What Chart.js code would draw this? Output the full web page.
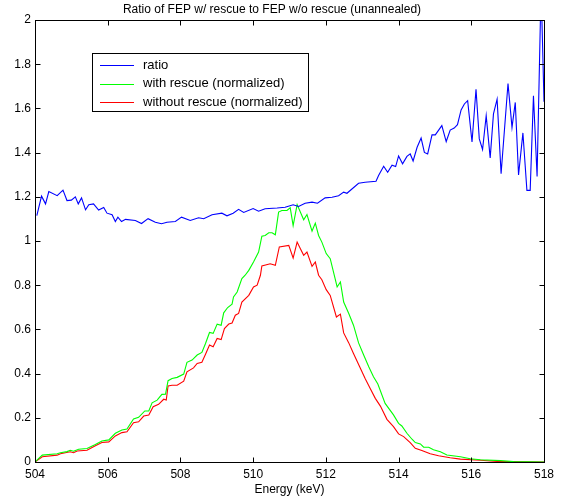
<!DOCTYPE html>
<html>
<head>
<meta charset="utf-8">
<script src="https://cdn.jsdelivr.net/npm/chart.js@4.4.0/dist/chart.umd.min.js"></script>
<style>
  html, body { margin: 0; padding: 0; background: #fff; }
</style>
</head>
<body>
<canvas id="chart" width="561" height="500"></canvas>
<script>
const chartTitle = "Ratio of FEP w/ rescue to FEP w/o rescue (unannealed)";
const xLabel = "Energy (keV)";
const seriesNames = ["ratio", "with rescue (normalized)", "without rescue (normalized)"];
const seriesColors = ["#0000ff", "#00ff00", "#ff0000"];
const xTicks = [504, 506, 508, 510, 512, 514, 516, 518];
const yTicks = [0, 0.2, 0.4, 0.6, 0.8, 1, 1.2, 1.4, 1.6, 1.8, 2];

// ratio curve (keV, ratio)
const ratioE = [
  504.05, 504.18, 504.29, 504.38, 504.61, 504.77, 504.88, 505.00, 505.11, 505.19,
  505.28, 505.39, 505.48, 505.61, 505.75, 505.89, 505.98, 506.12, 506.21, 506.28,
  506.38, 506.49, 506.76, 506.93, 507.11, 507.31, 507.48, 507.63, 507.86, 508.03,
  508.27, 508.50, 508.64, 508.87, 509.14, 509.28, 509.45, 509.60, 509.74, 510.00,
  510.15, 510.33, 510.66, 510.88, 511.10, 511.25, 511.43, 511.62, 511.77, 511.98,
  512.17, 512.35, 512.49, 512.58, 512.90, 513.08, 513.38, 513.45, 513.59, 513.70,
  513.82, 513.92, 514.00, 514.11, 514.23, 514.32, 514.40, 514.51, 514.62, 514.71,
  514.80, 514.92, 515.01, 515.19, 515.31, 515.42, 515.53, 515.62, 515.72, 515.81,
  515.90, 516.02, 516.13, 516.22, 516.31, 516.41, 516.52, 516.61, 516.71, 516.82,
  517.01, 517.12, 517.21, 517.30, 517.42, 517.53, 517.62, 517.71, 517.81, 517.92,
  518.00
];
const ratioV = [
  1.115, 1.203, 1.168, 1.224, 1.205, 1.230, 1.183, 1.185, 1.200, 1.168,
  1.195, 1.141, 1.164, 1.168, 1.140, 1.152, 1.126, 1.119, 1.088, 1.108,
  1.088, 1.098, 1.093, 1.079, 1.101, 1.085, 1.078, 1.085, 1.088, 1.108,
  1.093, 1.105, 1.101, 1.119, 1.126, 1.114, 1.126, 1.143, 1.129, 1.147,
  1.135, 1.146, 1.149, 1.153, 1.164, 1.156, 1.171, 1.176, 1.171, 1.195,
  1.198, 1.205, 1.221, 1.216, 1.261, 1.266, 1.270, 1.296, 1.338, 1.311,
  1.343, 1.337, 1.385, 1.349, 1.383, 1.394, 1.362, 1.424, 1.466, 1.401,
  1.394, 1.480, 1.480, 1.522, 1.450, 1.502, 1.511, 1.526, 1.593, 1.620,
  1.635, 1.448, 1.687, 1.462, 1.414, 1.567, 1.376, 1.575, 1.642, 1.304,
  1.713, 1.514, 1.627, 1.299, 1.489, 1.229, 1.229, 1.657, 1.292, 2.150,
  1.630
];

// with rescue (normalized)
const withE = [
  504.00, 504.20, 504.61, 504.70, 504.88, 504.97, 505.06, 505.20, 505.43, 505.66,
  505.84, 506.03, 506.21, 506.39, 506.53, 506.71, 506.85, 507.02, 507.13, 507.22,
  507.36, 507.49, 507.59, 507.66, 507.77, 507.91, 508.09, 508.18, 508.32, 508.46,
  508.59, 508.69, 508.80, 508.90, 509.01, 509.12, 509.19, 509.30, 509.42, 509.46,
  509.56, 509.69, 509.78, 509.88, 510.01, 510.15, 510.24, 510.33, 510.43, 510.52,
  510.61, 510.70, 510.79, 510.93, 511.02, 511.10, 511.21, 511.39, 511.48, 511.62,
  511.71, 511.80, 511.89, 512.01, 512.12, 512.31, 512.40, 512.49, 512.63, 512.76,
  512.90, 513.04, 513.18, 513.31, 513.43, 513.63, 513.86, 514.00, 514.09, 514.23,
  514.37, 514.46, 514.60, 514.69, 514.83, 514.96, 515.15, 515.33, 515.70, 515.97,
  516.25, 516.80, 517.16, 518.00
];
const withV = [
  0.000, 0.031, 0.037, 0.042, 0.047, 0.053, 0.049, 0.058, 0.061, 0.079,
  0.095, 0.100, 0.130, 0.145, 0.149, 0.195, 0.202, 0.231, 0.231, 0.268,
  0.280, 0.306, 0.307, 0.368, 0.378, 0.383, 0.398, 0.451, 0.461, 0.484,
  0.496, 0.536, 0.586, 0.582, 0.624, 0.619, 0.675, 0.699, 0.714, 0.747,
  0.769, 0.830, 0.845, 0.867, 0.905, 0.950, 1.022, 1.025, 1.037, 1.037,
  1.028, 1.131, 1.138, 1.138, 1.150, 1.070, 1.165, 1.096, 1.120, 1.045,
  1.081, 1.025, 0.995, 0.943, 0.920, 0.792, 0.815, 0.724, 0.672, 0.619,
  0.539, 0.484, 0.431, 0.386, 0.353, 0.265, 0.213, 0.175, 0.163, 0.130,
  0.103, 0.088, 0.082, 0.067, 0.067, 0.055, 0.046, 0.032, 0.024, 0.015,
  0.010, 0.006, 0.002, 0.000
];

// without rescue (normalized)
const withoutE = [
  504.00, 504.20, 504.61, 504.70, 504.97, 505.06, 505.16, 505.43, 505.66, 505.84,
  506.03, 506.21, 506.39, 506.53, 506.71, 506.85, 506.99, 507.13, 507.25, 507.40,
  507.54, 507.61, 507.66, 507.77, 507.91, 508.09, 508.18, 508.36, 508.46, 508.59,
  508.69, 508.80, 508.90, 509.01, 509.12, 509.21, 509.33, 509.42, 509.51, 509.60,
  509.69, 509.88, 510.01, 510.11, 510.20, 510.24, 510.47, 510.61, 510.72, 510.98,
  511.10, 511.21, 511.30, 511.39, 511.48, 511.62, 511.71, 511.80, 511.89, 512.01,
  512.12, 512.29, 512.40, 512.49, 512.63, 512.76, 512.93, 513.08, 513.22, 513.36,
  513.50, 513.68, 513.86, 514.00, 514.14, 514.32, 514.46, 514.64, 514.87, 515.10,
  515.42, 515.70, 516.25, 516.71, 518.00
];
const withoutV = [
  0.000, 0.024, 0.031, 0.037, 0.046, 0.042, 0.050, 0.053, 0.074, 0.088,
  0.091, 0.118, 0.133, 0.137, 0.178, 0.182, 0.208, 0.213, 0.250, 0.261,
  0.284, 0.280, 0.344, 0.347, 0.347, 0.366, 0.408, 0.426, 0.446, 0.451,
  0.488, 0.529, 0.521, 0.559, 0.554, 0.604, 0.624, 0.629, 0.664, 0.672,
  0.724, 0.754, 0.792, 0.800, 0.845, 0.887, 0.897, 0.890, 0.973, 0.980,
  0.923, 0.995, 0.965, 0.935, 0.950, 0.885, 0.905, 0.845, 0.825, 0.780,
  0.754, 0.656, 0.669, 0.584, 0.539, 0.491, 0.431, 0.378, 0.333, 0.288,
  0.253, 0.193, 0.160, 0.127, 0.115, 0.088, 0.062, 0.052, 0.037, 0.028,
  0.019, 0.013, 0.008, 0.003, 0.000
];

const toPoints = (xs, ys) => xs.map((x, i) => ({ x: x, y: ys[i] }));

// matlab style box: frame, inward ticks, title, legend box
const matlabBox = {
  id: "matlabBox",
  afterDraw(chart) {
    const { ctx, chartArea: a, scales } = chart;
    const L = Math.round(a.left) + 0.5, R = Math.round(a.right) + 0.5;
    const T = Math.round(a.top) + 0.5, B = Math.round(a.bottom) + 0.5;
    ctx.save();
    ctx.strokeStyle = "#000";
    ctx.lineWidth = 1;
    ctx.strokeRect(L, T, R - L, B - T);
    const tl = 5;
    ctx.beginPath();
    xTicks.forEach(v => {
      const px = Math.round(scales.x.getPixelForValue(v)) + 0.5;
      ctx.moveTo(px, B); ctx.lineTo(px, B - tl);
      ctx.moveTo(px, T); ctx.lineTo(px, T + tl);
    });
    yTicks.forEach(v => {
      const py = Math.round(scales.y.getPixelForValue(v)) + 0.5;
      ctx.moveTo(L, py); ctx.lineTo(L + tl, py);
      ctx.moveTo(R, py); ctx.lineTo(R - tl, py);
    });
    ctx.stroke();

    // title (sits a bit left of the axes centre, as in the source figure)
    ctx.fillStyle = "#000";
    ctx.font = "12px 'Liberation Sans', Arial, sans-serif";
    ctx.textAlign = "center";
    ctx.textBaseline = "middle";
    ctx.fillText(chartTitle, 272, 10);

    // legend
    const bx = 92, by = 53, bw = 216, bh = 58;
    ctx.fillStyle = "#fff";
    ctx.fillRect(bx, by, bw, bh);
    ctx.strokeRect(bx + 0.5, by + 0.5, bw, bh);
    ctx.textAlign = "left";
    ctx.font = "13px 'Liberation Sans', Arial, sans-serif";
    seriesNames.forEach((name, i) => {
      const ly = by + 12 + i * 18.5;
      ctx.strokeStyle = seriesColors[i];
      ctx.beginPath();
      ctx.moveTo(bx + 8, Math.round(ly) + 0.5);
      ctx.lineTo(bx + 42, Math.round(ly) + 0.5);
      ctx.stroke();
      ctx.fillStyle = "#000";
      ctx.fillText(name, bx + 51, ly);
    });
    ctx.restore();
  }
};

const ctx = document.querySelector("#chart");

let chart_show = new Chart(ctx, {
  type: "line",
  data: {
    datasets: [
      {
        label: seriesNames[0],
        data: toPoints(ratioE, ratioV),
        borderColor: seriesColors[0],
      },
      {
        label: seriesNames[1],
        data: toPoints(withE, withV),
        borderColor: seriesColors[1],
      },
      {
        label: seriesNames[2],
        data: toPoints(withoutE, withoutV),
        borderColor: seriesColors[2],
      },
    ],
  },
  options: {
    responsive: false,
    animation: false,
    devicePixelRatio: 1,
    layout: { padding: { top: 20, right: 17, left: 0, bottom: 0 } },
    elements: {
      point: { radius: 0 },
      line: { borderWidth: 1.1, tension: 0, fill: false },
    },
    plugins: {
      legend: { display: false },
      tooltip: { enabled: false },
    },
    scales: {
      x: {
        type: "linear",
        min: 504,
        max: 518,
        afterFit: s => { s.height = 38; },
        afterBuildTicks: s => { s.ticks = xTicks.map(v => ({ value: v })); },
        grid: { display: false, drawTicks: false },
        border: { display: false },
        ticks: {
          color: "#000",
          padding: 5,
          maxRotation: 0,
          font: { family: "'Liberation Sans', Arial, sans-serif", size: 12 },
        },
        title: {
          display: true,
          text: xLabel,
          color: "#000",
          padding: { top: 0, bottom: 3 },
          font: { family: "'Liberation Sans', Arial, sans-serif", size: 12 },
        },
      },
      y: {
        min: 0,
        max: 2,
        afterFit: s => { s.width = 35; },
        afterBuildTicks: s => { s.ticks = yTicks.map(v => ({ value: v })); },
        grid: { display: false, drawTicks: false },
        border: { display: false },
        ticks: {
          color: "#000",
          padding: 4,
          callback: v => String(Number(v.toFixed(1))),
          font: { family: "'Liberation Sans', Arial, sans-serif", size: 12 },
        },
      },
    },
  },
  plugins: [matlabBox],
});
</script>
</body>
</html>
